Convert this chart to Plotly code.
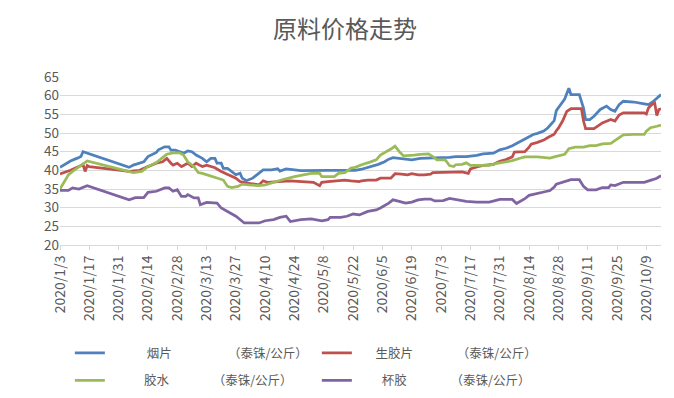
import plotly.graph_objects as go

# ---------------- data ----------------
yp_dates = ["2020-01-03","2020-01-06","2020-01-08","2020-01-11","2020-01-13","2020-01-14","2020-02-05","2020-02-07","2020-02-12","2020-02-14","2020-02-18","2020-02-19","2020-02-22","2020-02-24","2020-02-25","2020-02-27","2020-02-29","2020-03-02","2020-03-04","2020-03-06","2020-03-08","2020-03-11","2020-03-13","2020-03-15","2020-03-17","2020-03-18","2020-03-20","2020-03-21","2020-03-23","2020-03-25","2020-03-27","2020-03-29","2020-03-30","2020-04-01","2020-04-04","2020-04-06","2020-04-09","2020-04-13","2020-04-16","2020-04-17","2020-04-20","2020-04-24","2020-04-27","2020-05-10","2020-05-18","2020-05-23","2020-05-26","2020-05-28","2020-05-31","2020-06-03","2020-06-06","2020-06-08","2020-06-10","2020-06-14","2020-06-19","2020-06-23","2020-06-28","2020-07-03","2020-07-07","2020-07-10","2020-07-15","2020-07-20","2020-07-23","2020-07-28","2020-07-31","2020-08-03","2020-08-06","2020-08-09","2020-08-11","2020-08-14","2020-08-16","2020-08-18","2020-08-21","2020-08-23","2020-08-26","2020-08-27","2020-08-30","2020-08-31","2020-09-02","2020-09-03","2020-09-07","2020-09-09","2020-09-10","2020-09-12","2020-09-14","2020-09-17","2020-09-20","2020-09-22","2020-09-24","2020-09-26","2020-09-28","2020-10-03","2020-10-08","2020-10-10","2020-10-12","2020-10-14","2020-10-16"]
yp_vals = [40.8,41.8,42.5,43.2,43.7,45.0,40.8,41.4,42.3,43.7,44.8,45.5,46.3,46.3,45.4,45.4,45.0,44.6,45.2,45.0,44.1,43.2,42.3,43.2,43.2,41.9,41.9,40.5,40.5,39.7,38.8,39.2,37.9,37.2,37.9,38.8,40.1,40.1,40.4,39.8,40.4,40.1,39.9,40.0,39.9,40.0,40.3,40.6,41.2,41.6,42.3,43.0,43.4,43.2,42.8,43.2,43.4,43.4,43.5,43.7,43.7,44.0,44.4,44.6,45.5,45.9,46.6,47.5,48.2,48.9,49.6,49.9,50.5,51.4,53.3,56.0,58.3,59.1,62.0,60.3,60.3,56.7,53.6,53.6,54.5,56.3,57.2,56.3,55.8,57.6,58.5,58.3,57.8,57.6,58.3,59.2,60.3]

sjp_dates = ["2020-01-03","2020-01-08","2020-01-14","2020-01-15","2020-01-16","2020-01-17","2020-02-05","2020-02-10","2020-02-14","2020-02-18","2020-02-21","2020-02-23","2020-02-25","2020-02-26","2020-02-28","2020-03-01","2020-03-04","2020-03-06","2020-03-08","2020-03-11","2020-03-13","2020-03-15","2020-03-17","2020-03-20","2020-03-22","2020-03-25","2020-03-27","2020-03-29","2020-04-01","2020-04-05","2020-04-07","2020-04-09","2020-04-11","2020-04-22","2020-04-30","2020-05-03","2020-05-06","2020-05-07","2020-05-10","2020-05-16","2020-05-18","2020-05-21","2020-05-25","2020-05-26","2020-05-29","2020-06-02","2020-06-04","2020-06-09","2020-06-11","2020-06-14","2020-06-17","2020-06-19","2020-06-22","2020-06-25","2020-06-28","2020-06-29","2020-07-04","2020-07-10","2020-07-13","2020-07-16","2020-07-17","2020-07-20","2020-07-23","2020-07-28","2020-07-31","2020-08-03","2020-08-06","2020-08-07","2020-08-12","2020-08-14","2020-08-15","2020-08-18","2020-08-21","2020-08-23","2020-08-26","2020-08-27","2020-08-28","2020-08-30","2020-09-01","2020-09-03","2020-09-08","2020-09-09","2020-09-10","2020-09-14","2020-09-17","2020-09-18","2020-09-22","2020-09-24","2020-09-26","2020-09-28","2020-10-08","2020-10-09","2020-10-10","2020-10-12","2020-10-13","2020-10-14","2020-10-15","2020-10-16"]
sjp_vals = [39.0,40.0,41.5,39.7,41.3,41.0,39.7,40.0,41.0,41.9,42.3,43.2,41.9,41.4,41.9,41.0,41.9,41.0,41.9,41.0,41.4,41.0,40.7,39.7,39.2,38.3,37.9,37.0,36.6,36.3,36.1,37.2,36.8,37.2,37.0,36.8,35.9,36.8,37.0,37.2,37.4,37.2,37.0,37.2,37.4,37.4,37.9,37.9,39.1,39.0,38.8,39.1,38.8,38.8,39.0,39.4,39.5,39.7,39.6,39.2,40.4,40.9,41.3,41.6,42.4,42.9,43.6,44.9,45.0,46.2,47.0,47.5,48.1,48.8,49.7,50.6,51.3,53.2,55.8,56.5,56.5,53.2,51.2,51.2,52.3,52.7,53.6,53.2,54.8,55.4,55.4,55.1,56.7,57.8,58.0,54.7,56.3,56.5]

js_dates = ["2020-01-03","2020-01-07","2020-01-09","2020-01-12","2020-01-16","2020-02-07","2020-02-11","2020-02-14","2020-02-18","2020-02-21","2020-02-23","2020-02-26","2020-02-29","2020-03-02","2020-03-04","2020-03-07","2020-03-09","2020-03-11","2020-03-13","2020-03-16","2020-03-18","2020-03-21","2020-03-23","2020-03-25","2020-03-28","2020-03-30","2020-04-02","2020-04-07","2020-04-10","2020-04-14","2020-04-19","2020-04-24","2020-04-29","2020-05-02","2020-05-06","2020-05-07","2020-05-13","2020-05-15","2020-05-18","2020-05-21","2020-05-23","2020-05-26","2020-05-30","2020-06-02","2020-06-04","2020-06-07","2020-06-09","2020-06-11","2020-06-13","2020-06-15","2020-06-17","2020-06-20","2020-06-23","2020-06-27","2020-06-29","2020-07-01","2020-07-05","2020-07-07","2020-07-09","2020-07-10","2020-07-13","2020-07-15","2020-07-17","2020-07-26","2020-07-29","2020-08-03","2020-08-06","2020-08-10","2020-08-12","2020-08-18","2020-08-24","2020-08-26","2020-08-29","2020-08-31","2020-09-02","2020-09-05","2020-09-09","2020-09-12","2020-09-15","2020-09-18","2020-09-22","2020-09-24","2020-09-26","2020-09-28","2020-10-03","2020-10-08","2020-10-09","2020-10-11","2020-10-14","2020-10-16"]
js_vals = [35.0,38.8,39.7,41.0,42.5,39.4,39.7,41.0,42.1,43.4,44.3,44.7,44.7,44.1,42.3,41.0,39.4,39.2,38.8,38.3,37.9,37.4,35.7,35.4,35.7,36.3,36.1,35.9,36.1,36.8,37.6,38.3,38.8,39.2,39.2,38.3,38.3,39.2,39.4,40.6,40.8,41.5,42.2,42.8,44.1,45.0,45.7,46.5,45.0,43.9,43.9,44.1,44.3,44.4,43.7,42.8,42.8,41.3,41.0,41.5,41.6,42.0,41.3,41.3,41.8,42.2,42.6,43.3,43.6,43.6,43.3,43.6,44.1,44.3,45.8,46.2,46.2,46.6,46.6,47.1,47.2,47.9,48.8,49.5,49.6,49.6,50.5,51.4,51.8,52.1]

bj_dates = ["2020-01-03","2020-01-07","2020-01-09","2020-01-12","2020-01-16","2020-02-05","2020-02-08","2020-02-12","2020-02-14","2020-02-18","2020-02-22","2020-02-24","2020-02-26","2020-02-28","2020-03-01","2020-03-03","2020-03-04","2020-03-07","2020-03-09","2020-03-10","2020-03-13","2020-03-18","2020-03-20","2020-03-23","2020-03-27","2020-03-31","2020-04-07","2020-04-10","2020-04-14","2020-04-17","2020-04-20","2020-04-22","2020-04-27","2020-05-02","2020-05-07","2020-05-10","2020-05-11","2020-05-16","2020-05-19","2020-05-22","2020-05-25","2020-05-26","2020-05-29","2020-06-02","2020-06-04","2020-06-08","2020-06-10","2020-06-13","2020-06-16","2020-06-19","2020-06-22","2020-06-25","2020-06-28","2020-06-30","2020-07-04","2020-07-07","2020-07-10","2020-07-15","2020-07-20","2020-07-26","2020-07-31","2020-08-06","2020-08-08","2020-08-10","2020-08-12","2020-08-14","2020-08-18","2020-08-21","2020-08-24","2020-08-26","2020-08-27","2020-08-30","2020-09-03","2020-09-07","2020-09-09","2020-09-11","2020-09-15","2020-09-18","2020-09-21","2020-09-22","2020-09-24","2020-09-28","2020-10-08","2020-10-12","2020-10-14","2020-10-16"]
bj_vals = [34.6,34.6,35.3,35.0,35.9,32.1,32.7,32.7,34.1,34.4,35.3,35.3,34.4,34.8,33.0,33.0,33.5,32.6,32.6,30.8,31.4,31.2,29.9,29.0,27.7,25.9,25.9,26.5,26.8,27.4,27.7,26.3,26.8,27.0,26.5,26.8,27.4,27.4,27.7,28.3,28.1,28.3,29.0,29.4,29.9,31.2,32.1,31.7,31.2,31.5,32.1,32.3,32.3,31.8,31.9,32.5,32.2,31.7,31.5,31.5,32.2,32.2,31.1,31.7,32.4,33.3,33.7,34.2,34.6,35.5,36.3,36.8,37.5,37.5,35.7,34.8,34.8,35.4,35.4,36.1,35.9,36.8,36.8,37.5,37.9,38.6]

IS = "\u3000"   # ideographic space
EN = "\u2002"   # en space
NB = "\u00a0"   # no-break space
names = [
    IS * 2 + EN + NB * 2 + "烟片" + IS * 4 + EN + "（泰铢/公斤）",
    IS + EN + "生胶片" + IS * 4 + "（泰铢/公斤）",
    IS * 2 + EN + NB + "胶水" + IS * 3 + EN + "（泰铢/公斤）",
    IS * 2 + "杯胶" + IS * 4 + "（泰铢/公斤）",
]
colors = ["#4F81BD", "#C0504D", "#9BBB59", "#8064A2"]

FONT = "Noto Sans CJK SC"
GRAY = "#595959"
GRID = "#D9D9D9"

fig = go.Figure()
series = [(yp_dates, yp_vals), (sjp_dates, sjp_vals), (js_dates, js_vals), (bj_dates, bj_vals)]
legends = ["legend", "legend", "legend2", "legend2"]
for (d, v), n, c, lg in zip(series, names, colors, legends):
    fig.add_trace(go.Scatter(x=d, y=v, name=n, mode="lines",
                             line=dict(color=c, width=2.75), legend=lg))

fig.update_layout(
    width=674, height=398,
    margin=dict(l=52, r=21, t=69, b=160),
    paper_bgcolor="white", plot_bgcolor="white",
    font=dict(family=FONT, color=GRAY, size=12),
    title=dict(text="原料价格走势", x=0.5, xanchor="center", y=0.945, yanchor="middle",
               font=dict(family=FONT, size=24, color=GRAY)),
    showlegend=True,
    legend=dict(orientation="h", x=0.0164, xanchor="left", y=-0.635, yanchor="middle",
                entrywidth=202, entrywidthmode="pixels",
                font=dict(family=FONT, size=12.5, color=GRAY),
                bgcolor="rgba(0,0,0,0)", borderwidth=0),
    legend2=dict(orientation="h", x=0.0164, xanchor="left", y=-0.798, yanchor="middle",
                 entrywidth=202, entrywidthmode="pixels",
                 font=dict(family=FONT, size=12.5, color=GRAY),
                 bgcolor="rgba(0,0,0,0)", borderwidth=0),
    shapes=[dict(type="line", xref="paper", yref="paper",
                 x0=(669 - 52) / 601, x1=(669 - 52) / 601, y0=1.408, y1=-0.947,
                 line=dict(color="#BFBFBF", width=1))],
)

fig.update_xaxes(
    type="date", range=["2020-01-03", "2020-10-16"],
    tick0="2020-01-03", dtick=14 * 24 * 3600 * 1000, tickformat="%Y/%-m/%-d",
    tickangle=-90, showgrid=False, showline=True, linecolor=GRID, linewidth=1,
    ticks="outside", ticklen=4, tickcolor=GRID,
    tickfont=dict(family=FONT, size=14, color=GRAY),
)
fig.update_yaxes(
    range=[20, 65], dtick=5, tick0=20, showgrid=True, gridcolor=GRID, gridwidth=1,
    showline=False, zeroline=False, ticks="",
    tickfont=dict(family=FONT, size=13.5, color=GRAY),
)

fig.write_html("out.html")
